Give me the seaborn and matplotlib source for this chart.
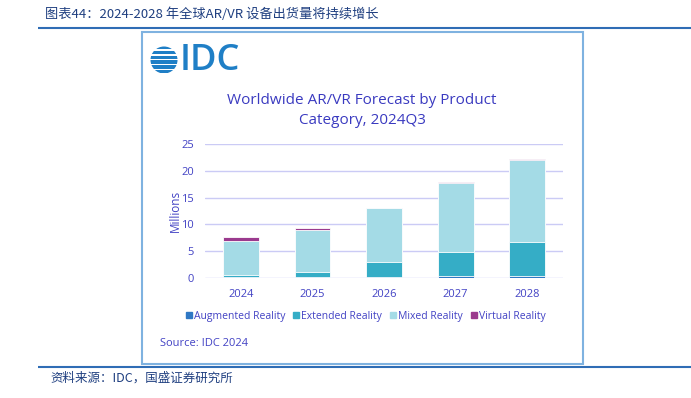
import numpy as np
import pandas as pd
import matplotlib
matplotlib.use('Agg')
import matplotlib.pyplot as plt
import seaborn as sns
from matplotlib.patches import Rectangle, Circle
from matplotlib.lines import Line2D

# ---- data ----
years = ['2024', '2025', '2026', '2027', '2028']
augmented = [0.05, 0.05, 0.1, 0.25, 0.4]
extended = [0.5, 1.05, 2.9, 4.65, 6.35]
mixed = [6.4, 7.8, 10.0, 12.8, 15.4]
virtual = [0.65, 0.35, 0.15, 0.15, 0.05]
series_names = ['Augmented Reality', 'Extended Reality', 'Mixed Reality', 'Virtual Reality']
yticks = [0, 5, 10, 15, 20, 25]
colors = ['#2f78c4', '#35adc6', '#a4dbe6', '#9b3a8e']

sns.set_theme(style='white')
plt.rcParams['font.family'] = ['Open Sans', 'Noto Sans CJK SC', 'DejaVu Sans']

W, H = 691, 398
fig = plt.figure(figsize=(W / 100, H / 100), dpi=100)
fig.patch.set_facecolor('white')

deco = fig.add_axes([0, 0, 1, 1], zorder=0)
deco.set_xlim(0, W)
deco.set_ylim(H, 0)
deco.axis('off')

TXT = '#4242c4'
TITLE = '#3a3ac0'
DARK = '#1f3f80'

# report header / footer
deco.text(45, 14, '图表44：2024-2028 年全球AR/VR 设备出货量将持续增长', fontsize=9.5,
          color=DARK, va='center', ha='left', family=['Noto Sans CJK SC', 'DejaVu Sans'])
deco.plot([38, W], [28, 28], color='#2f6db5', lw=1.5, solid_capstyle='butt')
deco.plot([38, W], [367, 367], color='#2f6db5', lw=1.5, solid_capstyle='butt')
deco.text(50, 378, '资料来源：IDC，国盛证券研究所', fontsize=9, color=DARK,
          va='center', ha='left', family=['Noto Sans CJK SC', 'DejaVu Sans'])

# inner box
deco.add_patch(Rectangle((142, 32), 441, 332, fill=False, edgecolor='#7fb2e0', lw=1.5))

# IDC logo
logo_blue = '#1f7fc6'
clip = Circle((164, 60), 13.5, transform=deco.transData)
for y0 in np.arange(46, 75, 4.8):
    r = Rectangle((149, y0), 30, 3.4, color=logo_blue, lw=0)
    deco.add_patch(r)
    r.set_clip_path(clip)
deco.text(180, 61, 'IDC', fontsize=26, color=logo_blue, va='center', ha='left',
          fontweight='semibold', family=['Open Sans', 'DejaVu Sans'])

# chart title
deco.text(362, 100, 'Worldwide AR/VR Forecast by Product', fontsize=11, color=TITLE,
          ha='center', va='center')
deco.text(362, 121, 'Category, 2024Q3', fontsize=11, color=TITLE, ha='center', va='center')

# ---- chart ----
ax = fig.add_axes([205 / W, 1 - 277.7 / H, 358 / W, (277.7 - 144.3) / H], zorder=1)
ax.patch.set_alpha(0)

stack = np.cumsum(np.array([augmented, extended, mixed, virtual]), axis=0)
for i in reversed(range(4)):
    df = pd.DataFrame({'year': years, 'value': stack[i]})
    sns.barplot(data=df, x='year', y='value', color=colors[i], saturation=1, width=0.5,
                edgecolor='white', linewidth=0.6, ax=ax)

ax.set_ylim(0, 25)
ax.set_yticks(yticks)
ax.set_xlim(-0.5, 4.5)
ax.grid(axis='y', color='#cbcbf5', lw=1)
ax.set_axisbelow(True)
for s in ax.spines.values():
    s.set_visible(False)
ax.tick_params(axis='both', length=0, labelsize=8, labelcolor=TXT)
ax.tick_params(axis='y', pad=8)
ax.tick_params(axis='x', pad=8)
ax.set_xlabel('')
ax.set_ylabel('Millions', fontsize=8.5, color=TXT)
ax.yaxis.set_label_coords(-0.065, 0.5)

handles = [Line2D([0], [0], marker='s', ls='', markersize=4.5, markerfacecolor=c,
                  markeredgecolor=c) for c in colors]
fig.legend(handles, series_names, loc='center', bbox_to_anchor=(366 / W, 1 - 316 / H),
           ncol=4, frameon=False, fontsize=7.5, handlelength=0.5, handletextpad=0.25,
           columnspacing=0.8, labelcolor=TXT)

deco.text(160, 344, 'Source: IDC 2024', fontsize=8, color=TXT, ha='left', va='center')

fig.savefig('out.png', dpi=100)
